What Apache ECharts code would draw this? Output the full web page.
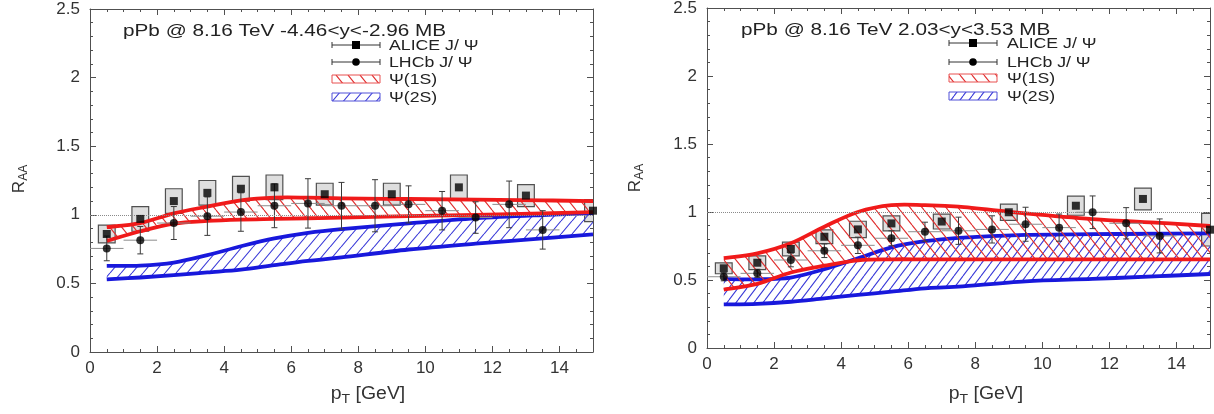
<!DOCTYPE html>
<html>
<head>
<meta charset="utf-8">
<script src="https://cdn.jsdelivr.net/npm/echarts@6/dist/echarts.min.js"></script>
<style>
  html, body { margin: 0; padding: 0; background: #fff; }
  #chart { width: 1214px; height: 414px; }
</style>
</head>
<body>
<div id="chart"></div>
<script>
// ---- data ----
// model bands, sampled at these pT values
const bandPt = [0.5, 1.5, 2.5, 3.5, 4.5, 5.5, 6.5, 7.5, 9.5, 11.5, 13.5, 15];

// backward rapidity (-4.46<y<-2.96)
const psi1sUpB = [0.91, 0.94, 1.01, 1.06, 1.105, 1.125, 1.125, 1.12, 1.115, 1.11, 1.105, 1.10];
const psi1sLoB = [0.81, 0.88, 0.935, 0.955, 0.965, 0.97, 0.975, 0.98, 0.99, 1.0, 1.01, 1.02];
const psi2sUpB = [0.628, 0.63, 0.652, 0.706, 0.771, 0.828, 0.869, 0.896, 0.937, 0.974, 0.998, 1.012];
const psi2sLoB = [0.53, 0.543, 0.56, 0.58, 0.60, 0.633, 0.664, 0.689, 0.747, 0.79, 0.828, 0.857];

// forward rapidity (2.03<y<3.53)
const psi1sUpF = [0.66, 0.696, 0.77, 0.892, 1.0, 1.05, 1.05, 1.04, 0.99, 0.948, 0.92, 0.897];
const psi1sLoF = [0.43, 0.472, 0.555, 0.605, 0.645, 0.652, 0.652, 0.652, 0.652, 0.652, 0.652, 0.652];
const psi2sUpF = [0.507, 0.505, 0.518, 0.58, 0.66, 0.74, 0.785, 0.81, 0.832, 0.837, 0.84, 0.843];
const psi2sLoF = [0.321, 0.325, 0.34, 0.365, 0.39, 0.414, 0.439, 0.451, 0.49, 0.508, 0.528, 0.544];

// ALICE J/psi
const alicePt = [0.5, 1.5, 2.5, 3.5, 4.5, 5.5, 7, 9, 11, 13, 15];
const aliceB = [0.86, 0.97, 1.10, 1.16, 1.19, 1.20, 1.15, 1.15, 1.20, 1.14, 1.03];
const aliceSysB = [0.065, 0.09, 0.09, 0.09, 0.09, 0.09, 0.08, 0.08, 0.09, 0.08, 0.08];
const aliceF = [0.586, 0.627, 0.728, 0.818, 0.872, 0.916, 0.93, 0.998, 1.046, 1.096, 0.87];
const aliceSysF = [0.04, 0.05, 0.05, 0.05, 0.06, 0.055, 0.055, 0.06, 0.07, 0.08, 0.12];
const aliceBoxHalf = 0.25;

// LHCb J/psi
const lhcbPt = [0.5, 1.5, 2.5, 3.5, 4.5, 5.5, 6.5, 7.5, 8.5, 9.5, 10.5, 11.5, 12.5, 13.5];
const lhcbB = [0.755, 0.815, 0.94, 0.99, 1.02, 1.066, 1.083, 1.066, 1.066, 1.076, 1.03, 0.98, 1.076, 0.89];
const lhcbErrB = [0.09, 0.1, 0.12, 0.14, 0.14, 0.16, 0.18, 0.17, 0.19, 0.135, 0.14, 0.115, 0.17, 0.14];
const lhcbF = [0.524, 0.549, 0.647, 0.715, 0.755, 0.807, 0.855, 0.862, 0.872, 0.91, 0.885, 0.998, 0.917, 0.824];
const lhcbErrF = [0.03, 0.03, 0.05, 0.05, 0.06, 0.055, 0.07, 0.1, 0.1, 0.125, 0.1, 0.12, 0.115, 0.125];
const lhcbBinHalf = 0.5;

const xTicks = { min: 0, max: 15, step: 2 };
const yTicks = { min: 0, max: 2.5, step: 0.5 };

// ---- drawing helpers ----
const FONT = '"Liberation Sans", Arial, sans-serif';
const RED = '#f01a1a';
const BLUE = '#1818dc';

function hatch(color, w, h, dir) {
  const c = document.createElement('canvas');
  c.width = w; c.height = h;
  const g = c.getContext('2d');
  g.strokeStyle = color;
  g.lineWidth = 1.1;
  g.beginPath();
  for (let k = -1; k <= 1; k++) {
    if (dir > 0) { g.moveTo(k * w, h); g.lineTo(k * w + w, 0); }
    else { g.moveTo(k * w, 0); g.lineTo(k * w + w, h); }
  }
  g.stroke();
  return c;
}
const hatchRed = hatch('#e03030', 12, 15, -1);
const hatchBlueB = hatch('#3a3ad8', 11, 13, 1);
const hatchBlueF = hatch('#3a3ad8', 9, 12, 1);

// catmull-rom through the pixel points
function curve(p, start) {
  let d = start + p[0][0] + ',' + p[0][1];
  for (let i = 0; i < p.length - 1; i++) {
    const p0 = p[i - 1] || p[i], p1 = p[i], p2 = p[i + 1], p3 = p[i + 2] || p2;
    const c1x = p1[0] + (p2[0] - p0[0]) / 6, c1y = p1[1] + (p2[1] - p0[1]) / 6;
    const c2x = p2[0] - (p3[0] - p1[0]) / 6, c2y = p2[1] - (p3[1] - p1[1]) / 6;
    d += ' C' + c1x + ',' + c1y + ' ' + c2x + ',' + c2y + ' ' + p2[0] + ',' + p2[1];
  }
  return d;
}

function bandSeries(gi, lo, up, color, pattern, z) {
  return {
    type: 'custom', xAxisIndex: gi * 2, yAxisIndex: gi * 2, z: z, clip: true, silent: true,
    data: [[bandPt[0], lo[0]]],
    renderItem: function (params, api) {
      const upP = bandPt.map((x, i) => api.coord([x, up[i]]));
      const loP = bandPt.map((x, i) => api.coord([x, lo[i]]));
      const area = curve(upP, 'M') + ' ' + curve(loP.slice().reverse(), 'L') + ' Z';
      return {
        type: 'group', children: [
          { type: 'path', shape: { pathData: area }, style: { fill: { image: pattern, repeat: 'repeat' }, stroke: 'none' } },
          { type: 'path', shape: { pathData: curve(upP, 'M') }, style: { fill: 'none', stroke: color, lineWidth: 3.8 } },
          { type: 'path', shape: { pathData: curve(loP, 'M') }, style: { fill: 'none', stroke: color, lineWidth: 3.8 } }
        ]
      };
    }
  };
}

function boxSeries(gi, xs, ys, sys) {
  return {
    type: 'custom', xAxisIndex: gi * 2, yAxisIndex: gi * 2, z: 1, clip: true, silent: true,
    data: xs.map((x, i) => [x, ys[i], sys[i]]),
    renderItem: function (params, api) {
      const x = api.value(0), y = api.value(1), s = api.value(2);
      const a = api.coord([x - aliceBoxHalf, y + s]);
      const b = api.coord([x + aliceBoxHalf, y - s]);
      return {
        type: 'rect',
        shape: { x: a[0], y: a[1], width: b[0] - a[0], height: b[1] - a[1] },
        style: { fill: '#dedede', stroke: '#505050', lineWidth: 1.2 }
      };
    }
  };
}

function errSeries(gi, xs, ys, errs) {
  return {
    type: 'custom', xAxisIndex: gi * 2, yAxisIndex: gi * 2, z: 4, clip: true, silent: true,
    data: xs.map((x, i) => [x, ys[i], errs[i]]),
    renderItem: function (params, api) {
      const x = api.value(0), y = api.value(1), e = api.value(2);
      const c = api.coord([x, y]);
      const t = api.coord([x, y + e]);
      const b = api.coord([x, y - e]);
      const l = api.coord([x - lhcbBinHalf, y]);
      const r = api.coord([x + lhcbBinHalf, y]);
      const s = { stroke: '#3a3a3a', lineWidth: 1 };
      return {
        type: 'group', children: [
          { type: 'line', shape: { x1: l[0], y1: c[1], x2: r[0], y2: c[1] }, style: { stroke: '#8c8c8c', lineWidth: 1 } },
          { type: 'line', shape: { x1: c[0], y1: t[1], x2: c[0], y2: b[1] }, style: s },
          { type: 'line', shape: { x1: c[0] - 3, y1: t[1], x2: c[0] + 3, y2: t[1] }, style: s },
          { type: 'line', shape: { x1: c[0] - 3, y1: b[1], x2: c[0] + 3, y2: b[1] }, style: s }
        ]
      };
    }
  };
}

function markers(gi, xs, ys, symbol, withRef) {
  const s = {
    type: 'scatter', xAxisIndex: gi * 2, yAxisIndex: gi * 2, z: 5, silent: true,
    symbol: symbol, symbolSize: 8, itemStyle: { color: '#000' },
    data: xs.map((x, i) => [x, ys[i]])
  };
  if (withRef) {
    s.markLine = {
      silent: true, symbol: ['none', 'none'], label: { show: false },
      lineStyle: { color: '#8a8a8a', type: 'dotted', width: 1 },
      data: [{ yAxis: 1 }]
    };
  }
  return s;
}

const lineCol = '#505050';
function xAxes(gi) {
  const common = {
    gridIndex: gi, type: 'value', min: xTicks.min, max: xTicks.max, interval: xTicks.step,
    splitLine: { show: false },
    axisLine: { show: true, onZero: false, lineStyle: { color: lineCol, width: 1 } },
    axisTick: { show: true, inside: true, length: 6, lineStyle: { color: lineCol } },
    minorTick: { show: true, splitNumber: 4, length: 3, lineStyle: { color: lineCol } }
  };
  return [
    Object.assign({}, common, {
      position: 'bottom',
      axisLabel: { show: true, showMaxLabel: false, margin: 8, fontSize: 17, fontFamily: FONT, color: '#333' }
    }),
    Object.assign({}, common, { position: 'top', axisLabel: { show: false } })
  ];
}
function yAxes(gi) {
  const common = {
    gridIndex: gi, type: 'value', min: yTicks.min, max: yTicks.max, interval: yTicks.step,
    splitLine: { show: false },
    axisLine: { show: true, onZero: false, lineStyle: { color: lineCol, width: 1 } },
    axisTick: { show: true, inside: true, length: 6, lineStyle: { color: lineCol } },
    minorTick: { show: true, splitNumber: 5, length: 3, lineStyle: { color: lineCol } }
  };
  return [
    Object.assign({}, common, {
      position: 'left',
      axisLabel: { show: true, margin: 10, fontSize: 17, fontFamily: FONT, color: '#333' }
    }),
    Object.assign({}, common, { position: 'right', axisLabel: { show: false } })
  ];
}

// titles, axis names and legends
function texts(p) {
  const ys = p.legendY;
  const els = [
    { type: 'text', x: p.titleX, y: p.titleY, scaleX: 1.22,
      style: { text: p.title, fontSize: 17, fontFamily: FONT, fill: '#222', verticalAlign: 'middle' } },
    { type: 'text', x: p.yNameX, y: p.yNameY, rotation: Math.PI / 2,
      style: { text: '{r|R}{s|AA}', align: 'center', verticalAlign: 'middle', fill: '#333',
        rich: { r: { fontSize: 17, fontFamily: FONT, fill: '#333' },
                s: { fontSize: 12, fontFamily: FONT, fill: '#333', padding: [9, 0, 0, 0] } } } },
    { type: 'text', x: p.xNameX, y: p.xNameY, scaleX: 1.08,
      style: { text: '{p|p}{s|T}{p| [GeV]}', align: 'center', verticalAlign: 'middle', fill: '#333',
        rich: { p: { fontSize: 18, fontFamily: FONT, fill: '#333' },
                s: { fontSize: 13, fontFamily: FONT, fill: '#333', padding: [10, 0, 0, 0] } } } }
  ];
  const x0 = p.legX0, x1 = p.legX1, xm = (x0 + x1) / 2;
  [0, 1].forEach(function (k) {
    const y = ys[k];
    const st = { stroke: '#333', lineWidth: 1 };
    els.push({ type: 'line', shape: { x1: x0, y1: y, x2: x1, y2: y }, style: st });
    els.push({ type: 'line', shape: { x1: x0, y1: y - 3, x2: x0, y2: y + 3 }, style: st });
    els.push({ type: 'line', shape: { x1: x1, y1: y - 3, x2: x1, y2: y + 3 }, style: st });
    if (k === 0) els.push({ type: 'rect', shape: { x: xm - 4, y: y - 4, width: 8, height: 8 }, style: { fill: '#000' } });
    else els.push({ type: 'circle', shape: { cx: xm, cy: y, r: 3.8 }, style: { fill: '#000' } });
  });
  els.push({ type: 'rect', shape: { x: x0, y: ys[2] - 4, width: x1 - x0, height: 8 },
    style: { fill: { image: hatchRed, repeat: 'repeat' }, stroke: '#e85050', lineWidth: 1 } });
  els.push({ type: 'rect', shape: { x: x0, y: ys[3] - 4, width: x1 - x0, height: 8 },
    style: { fill: { image: p.blue, repeat: 'repeat' }, stroke: '#5050d8', lineWidth: 1 } });
  ['ALICE J/ \u03A8', 'LHCb J/ \u03A8', '\u03A8(1S)', '\u03A8(2S)'].forEach(function (t, k) {
    els.push({ type: 'text', x: p.legTextX, y: ys[k] + 1, scaleX: 1.18,
      style: { text: t, fontSize: 15, fontFamily: FONT, fill: '#222', verticalAlign: 'middle' } });
  });
  return els;
}

const chart = echarts.init(document.getElementById('chart'), null, { renderer: 'canvas' });
chart.setOption({
  animation: false,
  backgroundColor: '#fff',
  grid: [
    { left: 90, top: 9, width: 503, height: 343, containLabel: false, outerBoundsMode: 'none' },
    { left: 707, top: 8, width: 503, height: 340, containLabel: false, outerBoundsMode: 'none' }
  ],
  xAxis: xAxes(0).concat(xAxes(1)),
  yAxis: yAxes(0).concat(yAxes(1)),
  series: [
    boxSeries(0, alicePt, aliceB, aliceSysB),
    bandSeries(0, psi2sLoB, psi2sUpB, BLUE, hatchBlueB, 2),
    bandSeries(0, psi1sLoB, psi1sUpB, RED, hatchRed, 3),
    errSeries(0, lhcbPt, lhcbB, lhcbErrB),
    markers(0, alicePt, aliceB, 'rect', true),
    markers(0, lhcbPt, lhcbB, 'circle', false),

    boxSeries(1, alicePt, aliceF, aliceSysF),
    bandSeries(1, psi2sLoF, psi2sUpF, BLUE, hatchBlueF, 2),
    bandSeries(1, psi1sLoF, psi1sUpF, RED, hatchRed, 3),
    errSeries(1, lhcbPt, lhcbF, lhcbErrF),
    markers(1, alicePt, aliceF, 'rect', true),
    markers(1, lhcbPt, lhcbF, 'circle', false)
  ],
  graphic: texts({
    title: 'pPb @ 8.16 TeV -4.46<y<-2.96 MB', titleX: 123, titleY: 31,
    yNameX: 19, yNameY: 179, xNameX: 368, xNameY: 394,
    legX0: 332, legX1: 380, legTextX: 389, legendY: [45, 62, 79, 97], blue: hatchBlueB
  }).concat(texts({
    title: 'pPb @ 8.16 TeV 2.03<y<3.53 MB', titleX: 741, titleY: 30,
    yNameX: 635, yNameY: 178, xNameX: 986, xNameY: 394,
    legX0: 949, legX1: 997, legTextX: 1007, legendY: [43, 62, 78, 96], blue: hatchBlueF
  }))
});
</script>
</body>
</html>
